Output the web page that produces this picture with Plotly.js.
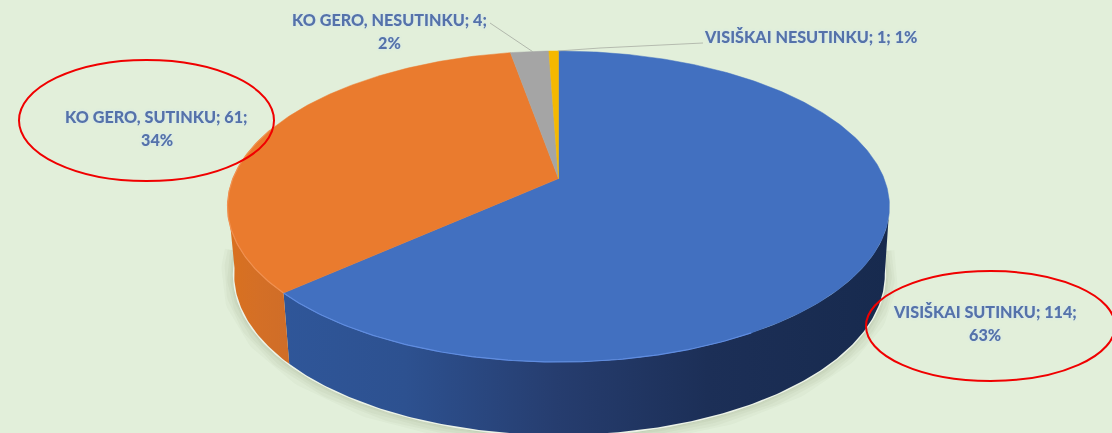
<!DOCTYPE html>
<html>
<head>
<meta charset="utf-8">
<script src="https://cdn.plot.ly/plotly-3.0.1.min.js"></script>
<style>html,body{margin:0;padding:0;background:#e2efda;overflow:hidden}#c{width:1112px;height:433px;filter:blur(0.5px)}</style>
</head>
<body>
<div id="c"></div>
<script>
const categories = ["VISIŠKAI SUTINKU", "KO GERO, SUTINKU", "KO GERO, NESUTINKU", "VISIŠKAI NESUTINKU"];
const values = [114, 61, 4, 1];
const topColors = ["#4270c0", "#ea7b2e", "#a5a5a5", "#f5b800"];
const rimColors = ["#5f8ce0", "#f09050", "#c4c4c4", "#ffd34d"];

// Projection of the tilted disc onto the picture
const K = 0.1795;
const TOP = {cx: 558.5, cy: 178.6, b: 325.6, a: 150.5};
const BOT = {cx: 559.5, cy: 246, b: 320, a: 155};
const total = values.reduce((s, v) => s + v, 0);

function project(g, deg, scale) {
  const t = deg * Math.PI / 180, x = Math.sin(t), y = Math.cos(t), d = 1 + K * y;
  const s = scale || 1;
  return [g.cx + s * g.b * x / d, g.cy - s * g.a * y / d];
}
function arc(g, from, to, scale) {
  const n = Math.max(2, Math.ceil(Math.abs(to - from) * 1.5)), xs = [], ys = [];
  for (let i = 0; i <= n; i++) {
    const p = project(g, from + (to - from) * i / n, scale);
    xs.push(p[0]); ys.push(p[1]);
  }
  return [xs, ys];
}
const bounds = [];
let acc = 0;
values.forEach(v => { bounds.push([acc / total * 360, (acc + v) / total * 360]); acc += v; });

const base = {type: "scatter", mode: "lines", hoverinfo: "skip", showlegend: false};
const traces = [];

// soft drop shadow under the disc
[[26, 0.035], [20, 0.045], [14, 0.05], [8, 0.06], [4, 0.08]].forEach(([w, o]) => {
  const s = arc(BOT, 92, 268);
  traces.push({...base, x: s[0], y: s[1], line: {color: `rgba(95,115,70,${o})`, width: w}});
});
// light halo round the disc
{
  const s = arc(BOT, 92, 268);
  traces.push({...base, x: s[0], y: s[1], line: {color: "rgba(240,245,235,0.9)", width: 3}});
}

// side walls
function wall(from, to, grad) {
  const a = arc(TOP, from, to), b = arc(BOT, to, from);
  traces.push({...base, x: a[0].concat(b[0]), y: a[1].concat(b[1]), fill: "toself", line: {width: 0}, fillgradient: grad, fillcolor: "#000"});
}
wall(100, bounds[0][1], {type: "horizontal", colorscale: [
  [0, "#2f5699"], [0.2, "#2d5190"], [0.45, "#263d6f"], [0.7, "#1c2f57"], [1, "#172a4e"]]});
wall(bounds[1][0], 262, {type: "horizontal", colorscale: [
  [0, "#d9711f"], [0.5, "#d46f26"], [1, "#cf6d28"]]});

// top faces
bounds.forEach((b, i) => {
  const a = arc(TOP, b[0], b[1]);
  traces.push({...base, x: [TOP.cx].concat(a[0], [TOP.cx]), y: [TOP.cy].concat(a[1], [TOP.cy]),
    fill: "toself", fillcolor: topColors[i], line: {color: topColors[i], width: 0.5}});
});
// rim highlight on the front edge
[[bounds[0][0] + 150, bounds[0][1], 0], [bounds[1][0], bounds[1][1] - 60, 1]].forEach(r => {
  const a = arc(TOP, r[0], r[1]);
  traces.push({...base, x: a[0], y: a[1], line: {color: rimColors[r[2]], width: 1.2}});
});

// leader lines, anchored on each slice's own edge
const leadA = project(TOP, (bounds[2][0] + bounds[2][1]) / 2);
traces.push({...base, x: [490, leadA[0] + 3], y: [23, leadA[1]], line: {color: "rgba(165,170,160,0.8)", width: 1}});
const leadB = project(TOP, (bounds[3][0] + bounds[3][1]) / 2);
traces.push({...base, x: [leadB[0] + 4, 600, 703], y: [leadB[1], 48, 43], line: {color: "rgba(165,170,160,0.75)", width: 1}});

const pct = v => Math.round(v / total * 100) + "%";
const font = {family: "Lato, Carlito, sans-serif", size: 16.2, color: "#5572aa", weight: 900,
  shadow: "0 0 3px rgba(205,228,245,0.9)"};
const label = (text, x, y) => ({text, x, y, xref: "x", yref: "y", showarrow: false, font, xanchor: "center", yanchor: "middle"});
const annotations = [
  label(`${categories[0]}; ${values[0]};`, 984.5, 311),
  label(pct(values[0]), 984.5, 334),
  label(`${categories[1]}; ${values[1]};`, 156, 116),
  label(pct(values[1]), 157, 139),
  label(`${categories[2]}; ${values[2]};`, 389.5, 19),
  label(pct(values[2]), 389.5, 42),
  label(`${categories[3]}; ${values[3]}; ${pct(values[3])}`, 810.5, 36)
];
const ring = (x0, x1, y0, y1) => ({type: "circle", xref: "x", yref: "y", x0, x1, y0, y1, line: {color: "#f00000", width: 2}, layer: "above"});

Plotly.newPlot("c", traces, {
  width: 1112, height: 433,
  margin: {l: 0, r: 0, t: 0, b: 0},
  paper_bgcolor: "#e2efda", plot_bgcolor: "#e2efda",
  showlegend: false,
  xaxis: {range: [0, 1112], visible: false, fixedrange: true},
  yaxis: {range: [433, 0], visible: false, fixedrange: true},
  annotations,
  shapes: [ring(19, 274, 60, 181), ring(866, 1115, 271, 381)]
}, {staticPlot: true, displayModeBar: false});
</script>
</body>
</html>
